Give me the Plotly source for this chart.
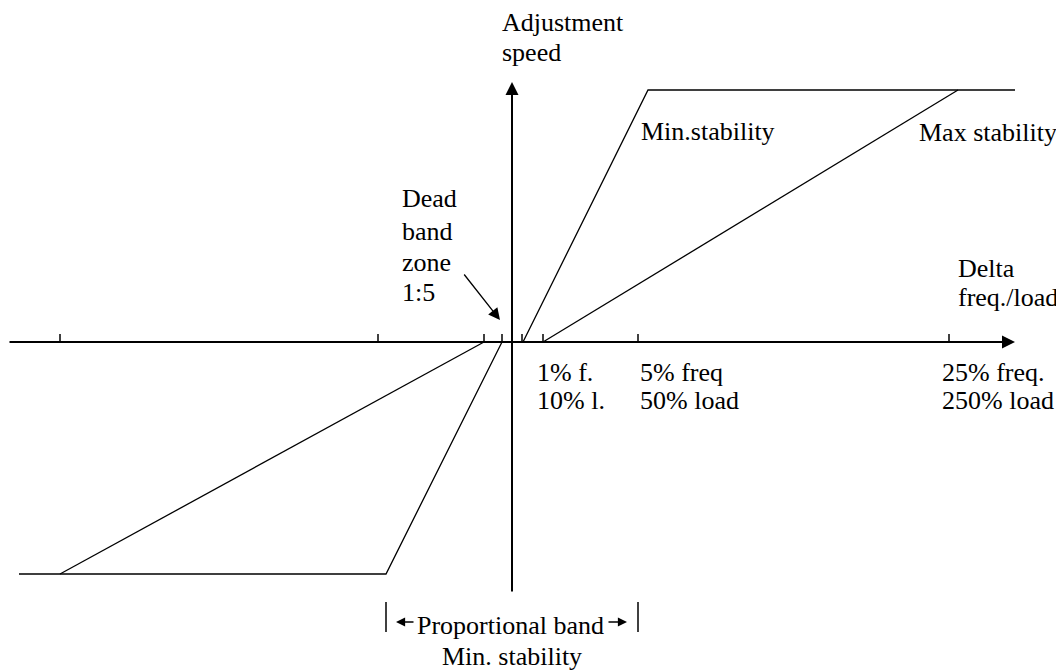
import plotly.graph_objects as go

# Schematic data units (origin = axes crossing)
# Characteristic lines (x = delta freq./load, y = adjustment speed)
min_right_x = [11, 136, 503]
min_right_y = [0, 252, 252]
max_right_x = [31, 446]
max_right_y = [0, 252]
min_left_x = [-10, -126, -493]
min_left_y = [0, -232, -232]
max_left_x = [-28, -452]
max_left_y = [0, -232]

# Axis extents
x_axis_from, x_axis_to = -504, 503
y_axis_from, y_axis_to = -251, 260

# Tick marks on the horizontal axis
tick_x = [-452, -134, -28, -10, 10, 31, 126, 437]
tick_len = 8

# Tick labels below the axis
tick_label_x = [23, 126, 428]
tick_label_line1 = ["1% f.", "5% freq", "25% freq."]
tick_label_line2 = ["10% l.", "50% load", "250% load"]

# Proportional band markers
band_x = [-126, 126]

FONT = "Liberation Serif, Times New Roman, serif"
FS = 26

fig = go.Figure()
line_style = dict(color="black", width=1.3)
for xs, ys in [(min_right_x, min_right_y), (max_right_x, max_right_y),
               (min_left_x, min_left_y), (max_left_x, max_left_y)]:
    fig.add_trace(go.Scatter(x=xs, y=ys, mode="lines", line=line_style,
                             hoverinfo="skip", showlegend=False))

# tick marks
tx, ty = [], []
for t in tick_x:
    tx += [t, t, None]
    ty += [0, tick_len, None]
fig.add_trace(go.Scatter(x=tx, y=ty, mode="lines", line=dict(color="black", width=1.5),
                         hoverinfo="skip", showlegend=False))

# band bars
bx, by = [], []
for b in band_x:
    bx += [b, b, None]
    by += [-260, -290, None]
fig.add_trace(go.Scatter(x=bx, y=by, mode="lines", line=dict(color="black", width=1.5),
                         hoverinfo="skip", showlegend=False))

ann = []
# axes with arrows
ann.append(dict(x=x_axis_to, y=0, ax=x_axis_from, ay=0, xref="x", yref="y",
                axref="x", ayref="y", showarrow=True, arrowhead=2, arrowsize=1.3,
                arrowwidth=2, arrowcolor="black", text=""))
ann.append(dict(x=0, y=y_axis_to, ax=0, ay=y_axis_from, xref="x", yref="y",
                axref="x", ayref="y", showarrow=True, arrowhead=2, arrowsize=1.3,
                arrowwidth=2, arrowcolor="black", text=""))
# dead band arrow
ann.append(dict(x=-12, y=22, ax=-49, ay=69, xref="x", yref="y",
                axref="x", ayref="y", showarrow=True, arrowhead=2, arrowsize=1.8,
                arrowwidth=1.3, arrowcolor="black", text=""))
# proportional band arrows
ann.append(dict(x=-116, y=-280, ax=-97, ay=-280, xref="x", yref="y",
                axref="x", ayref="y", showarrow=True, arrowhead=2, arrowsize=1.4,
                arrowwidth=1.3, arrowcolor="black", text=""))
ann.append(dict(x=115, y=-280, ax=95, ay=-280, xref="x", yref="y",
                axref="x", ayref="y", showarrow=True, arrowhead=2, arrowsize=1.4,
                arrowwidth=1.3, arrowcolor="black", text=""))


def txt(s, x, y, anchor="left"):
    ann.append(dict(text=s, x=x, y=y, xref="x", yref="y", showarrow=False,
                    xanchor=anchor, yanchor="middle",
                    font=dict(family=FONT, size=FS, color="black")))


txt("Adjustment", -12, 320)
txt("speed", -12, 290)
txt("Min.stability", 127, 211)
txt("Max stability", 405, 210)
txt("Dead", -112, 144)
txt("band", -112, 111)
txt("zone", -112, 80)
txt("1:5", -112, 50)
txt("Delta", 444, 74)
txt("freq./load", 444, 45)
for lx, l1, l2 in zip(tick_label_x, tick_label_line1, tick_label_line2):
    txt(l1, lx, -30)
    txt(l2, lx, -58)
txt("Proportional band", -2, -283, "center")
txt("Min. stability", 0, -314, "center")

# The page body has an 8px margin, so the figure is 8px smaller and its
# ranges start 8px further in to keep the drawing where the reference has it.
fig.update_layout(
    width=1056, height=662,
    margin=dict(l=0, r=0, t=0, b=0, pad=0, autoexpand=False),
    paper_bgcolor="white", plot_bgcolor="white",
    xaxis=dict(range=[-504, 552], visible=False, fixedrange=True),
    yaxis=dict(range=[-328, 334], visible=False, fixedrange=True),
    annotations=ann,
    showlegend=False,
)
fig.write_html("out.html")
